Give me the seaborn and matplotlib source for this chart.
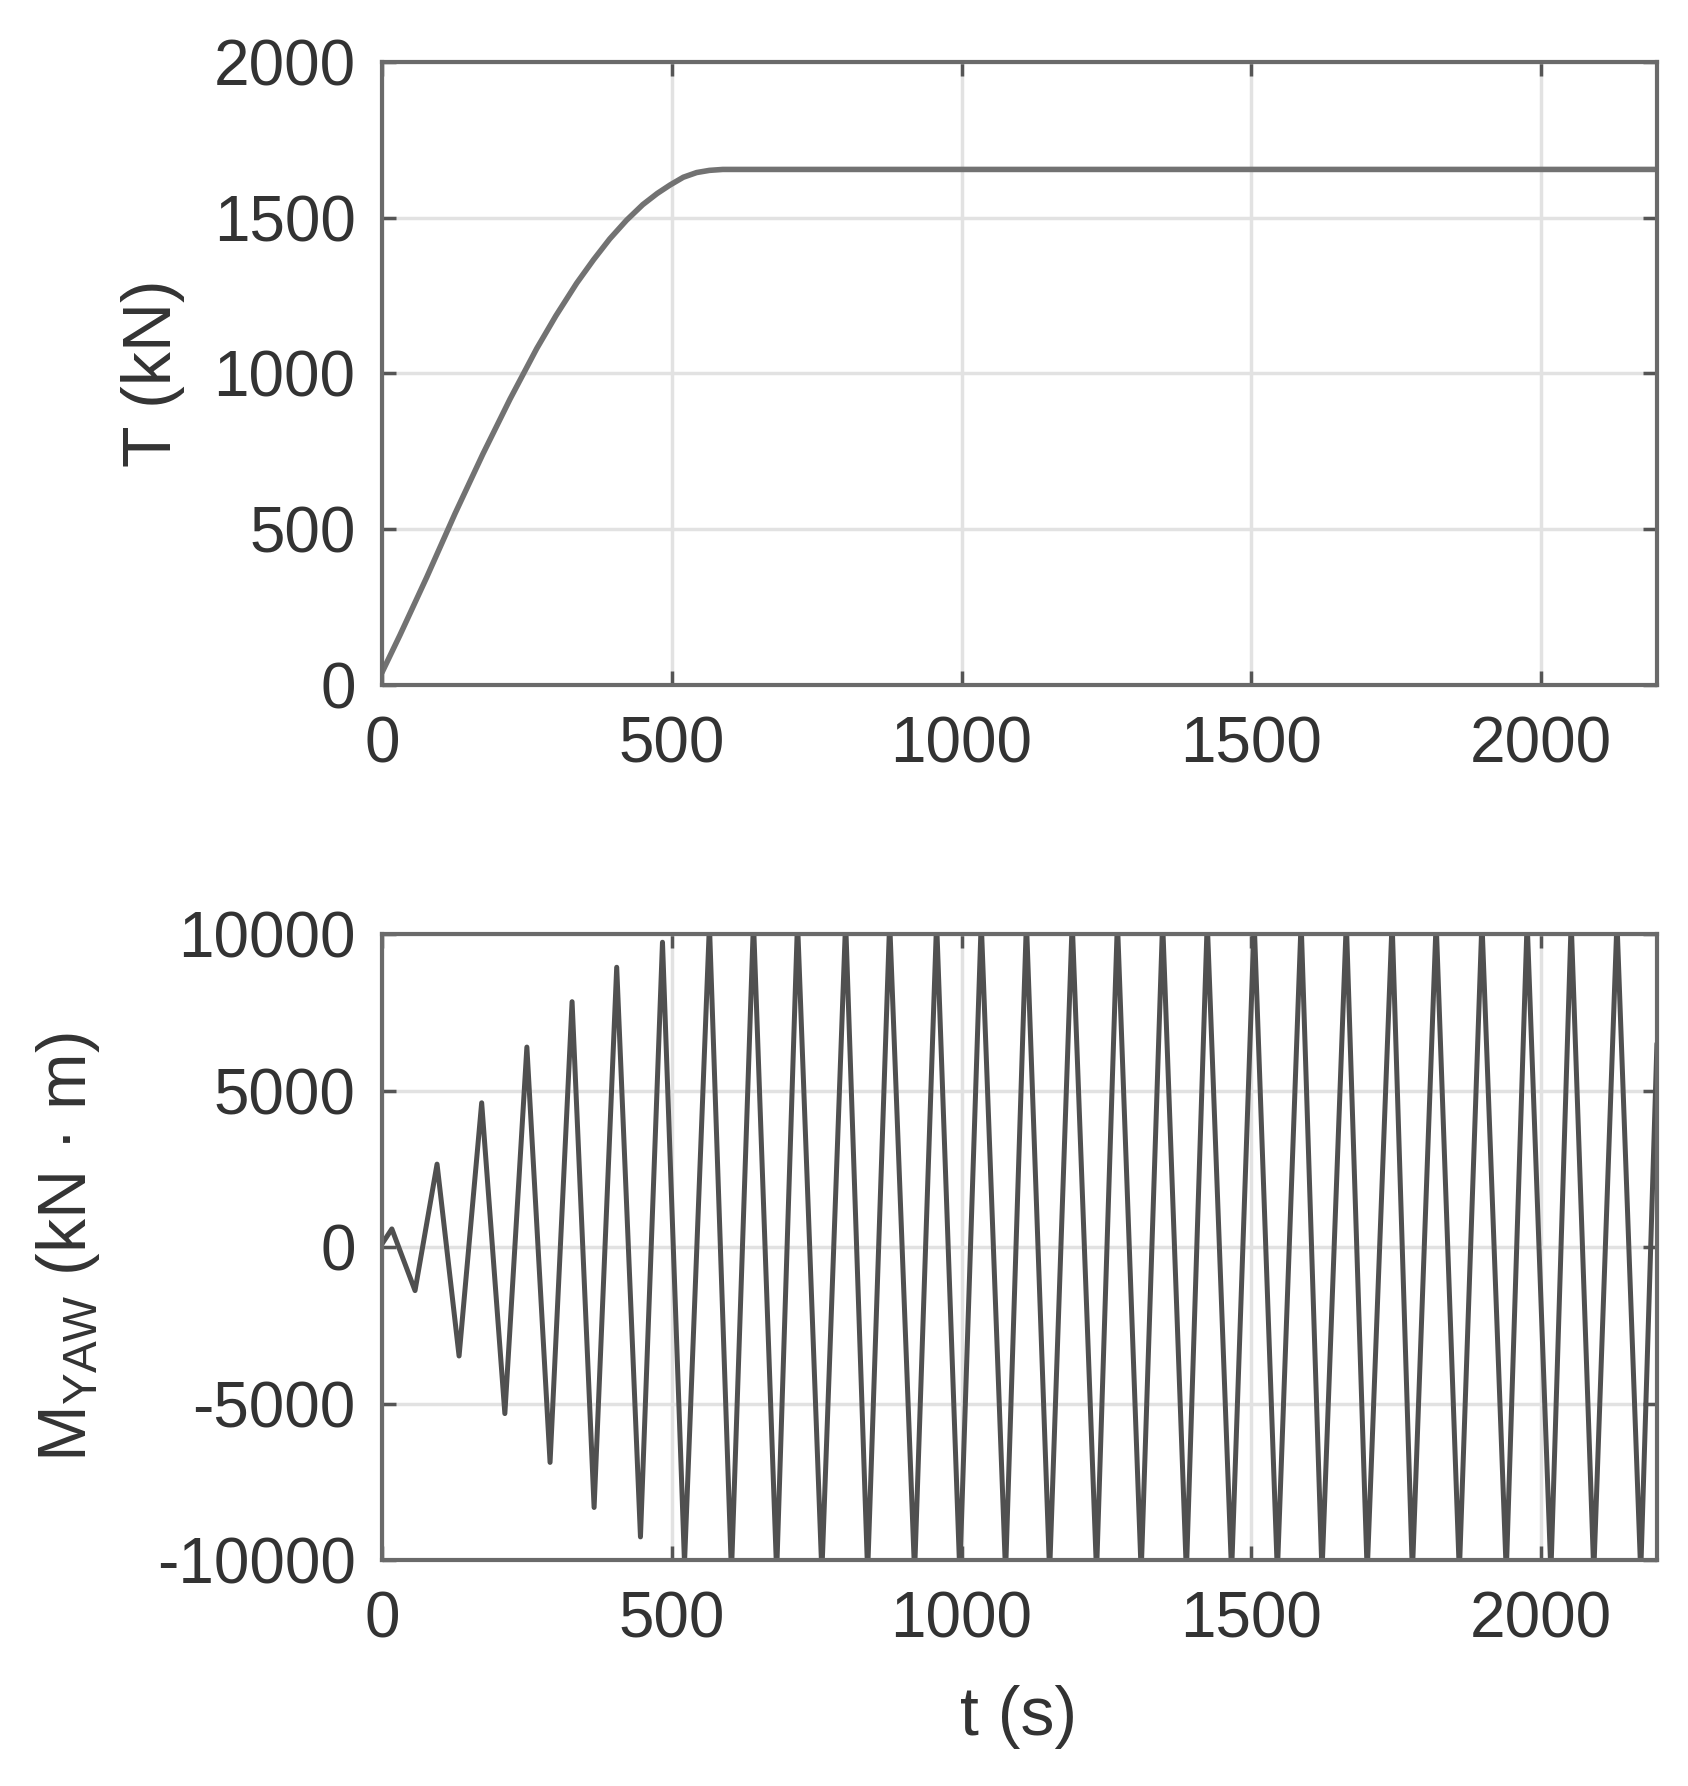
import numpy as np
import pandas as pd
import matplotlib
matplotlib.use("Agg")
import matplotlib.pyplot as plt
import seaborn as sns

# ---- data ----
# Thrust T (kN) vs time t (s)
t_thrust = [0, 31, 77, 126, 174, 221, 267, 300, 336, 365, 393, 422, 450, 475, 497,
            520, 543, 565, 588, 610, 2200]
thrust = [40, 160, 345, 550, 741, 918, 1080, 1185, 1290, 1365, 1432, 1492, 1542, 1578,
          1605, 1630, 1645, 1652, 1655, 1655, 1655]

# Yaw moment M_YAW (kN·m): start, successive peaks/troughs, end
t_yaw = [0, 17, 57, 95, 133, 172, 212, 250, 290, 328, 366, 405, 446, 484, 522,
         565, 603, 641, 681, 717, 759, 800, 838, 876, 919, 957, 997, 1034, 1076,
         1112, 1152, 1191, 1233, 1269, 1310, 1347, 1388, 1424, 1466, 1505, 1545,
         1586, 1622, 1664, 1700, 1743, 1778, 1819, 1859, 1898, 1940, 1976, 2017,
         2052, 2091, 2131, 2172, 2200]
m_yaw = [100, 580, -1390, 2650, -3480, 4610, -5320, 6390, -6880, 7840, -8320, 8940,
         -9260, 9740, -10100,
         10300, -10400, 10400, -10400, 10400, -10400, 10400, -10400, 10400, -10400,
         10400, -10400, 10400, -10400, 10400, -10400, 10400, -10400, 10400, -10400,
         10400, -10400, 10400, -10400, 10400, -10400, 10400, -10400, 10400, -10400,
         10400, -10400, 10400, -10400, 10400, -10400, 10400, -10400, 10400, -10400,
         10400, -10400, 6500]

x_ticks = [0, 500, 1000, 1500, 2000]
t_yticks = [0, 500, 1000, 1500, 2000]
m_yticks = [-10000, -5000, 0, 5000, 10000]

df_t = pd.DataFrame({"t": t_thrust, "T": thrust})
df_m = pd.DataFrame({"t": t_yaw, "M": m_yaw})

# ---- style ----
sns.set_theme(style="whitegrid")
plt.rcParams['font.family'] = ['Liberation Sans', 'DejaVu Sans']
plt.rcParams['axes.unicode_minus'] = False

txt_col = '#333333'
spine_col = '#6a6a6a'
grid_col = '#e2e2e2'
tick_fs = 46
label_fs = 49

fig = plt.figure(figsize=(16.88, 17.86), dpi=100)
fig.patch.set_facecolor('white')
ax1 = fig.add_axes([0.2263, 0.6165, 0.7553, 0.3488])
ax2 = fig.add_axes([0.2263, 0.1265, 0.7553, 0.3505])

sns.lineplot(data=df_t, x="t", y="T", ax=ax1, color='#727272', linewidth=4,
             sort=False, estimator=None)
sns.lineplot(data=df_m, x="t", y="M", ax=ax2, color='#505050', linewidth=3.6,
             sort=False, estimator=None)

for ax, yt in ((ax1, t_yticks), (ax2, m_yticks)):
    ax.set_xlim(0, 2200)
    ax.set_ylim(yt[0], yt[-1])
    ax.set_xticks(x_ticks)
    ax.set_yticks(yt)
    ax.set_xticklabels([str(v) for v in x_ticks])
    ax.set_yticklabels([str(v) for v in yt])
    ax.set_facecolor('white')
    ax.grid(True, color=grid_col, linewidth=2.5)
    for s in ax.spines.values():
        s.set_visible(True)
        s.set_color(spine_col)
        s.set_linewidth(3)
    ax.tick_params(axis='both', which='both', direction='in', length=10, width=2.5,
                   color='#555555', labelcolor=txt_col, labelsize=tick_fs,
                   top=True, right=True, bottom=True, left=True,
                   labeltop=False, labelright=False)
    ax.tick_params(axis='y', pad=19)
    ax.tick_params(axis='x', pad=22)
    ax.set_xlabel("")

ax1.set_ylabel("T (kN)", fontsize=label_fs, color=txt_col)
ax1.yaxis.set_label_coords(-0.1796, 0.5)
ax1.yaxis.label.set_verticalalignment('center')

ax2.set_ylabel("M$_\\mathregular{YAW}$ (kN \u00b7 m)", fontsize=label_fs, color=txt_col)
ax2.yaxis.set_label_coords(-0.246, 0.5)
ax2.yaxis.label.set_verticalalignment('center')

ax2.set_xlabel("t (s)", fontsize=label_fs, color=txt_col)
ax2.xaxis.set_label_coords(0.499, -0.25)
ax2.xaxis.label.set_verticalalignment('center')

fig.savefig("out.png", dpi=100, facecolor='white')
